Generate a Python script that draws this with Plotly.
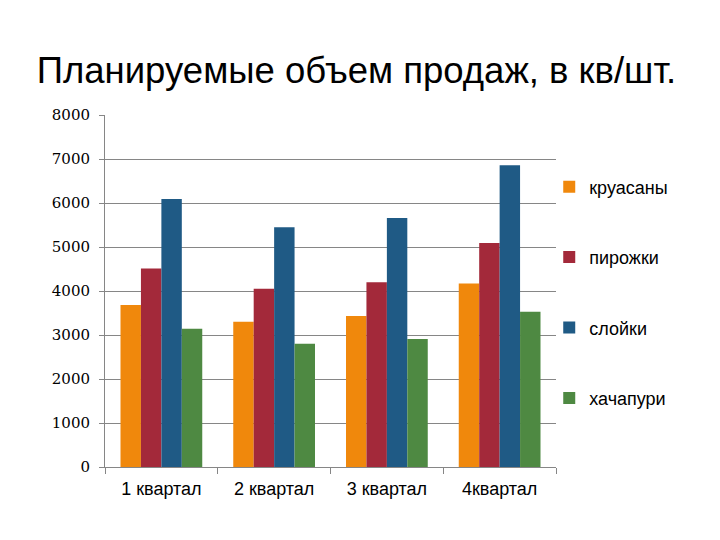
import plotly.graph_objects as go

categories = ["1 квартал", "2 квартал", "3 квартал", "4квартал"]
kruasany = [3680, 3300, 3430, 4170]
pirozhki = [4510, 4050, 4200, 5090]
sloyki = [6090, 5450, 5660, 6860]
khachapuri = [3140, 2800, 2910, 3530]
series_names = ["круасаны", "пирожки", "слойки", "хачапури"]
colors = ["#F0880C", "#A3293A", "#1F5A85", "#4E8942"]

fig = go.Figure()
for i, (name, vals) in enumerate(zip(series_names, [kruasany, pirozhki, sloyki, khachapuri])):
    fig.add_trace(go.Bar(x=categories, y=vals, name=name, marker_color=colors[i],
                         marker_line_width=0, legendgroup=name))

fig.update_layout(
    width=720, height=540,
    paper_bgcolor="white", plot_bgcolor="white",
    margin=dict(l=97, r=172, t=107, b=81),
    barmode="group", bargap=0.275, bargroupgap=0,
    title=dict(text="Планируемые объем продаж, в кв/шт.", x=0.484, xanchor="center",
               y=1 - 62 / 540, yanchor="middle",
               font=dict(family="Liberation Sans, Arial", size=36.5, color="#000000")),
    legend=dict(x=0.985, xanchor="left", y=0.848, yanchor="top",
                bgcolor="rgba(0,0,0,0)",
                font=dict(family="Liberation Sans, Arial", size=18, color="#000000"),
                tracegroupgap=44, itemwidth=30, traceorder="grouped"),
    showlegend=True,
)
fig.update_xaxes(showline=True, linecolor="#868686", linewidth=1,
                 ticks="outside", tickson="boundaries", ticklen=6, tickcolor="#868686",
                 ticklabelstandoff=5,
                 tickfont=dict(family="Liberation Sans, Arial", size=18, color="#000000"),
                 showgrid=False)
fig.update_yaxes(range=[0, 8000], dtick=1000, showline=True, linecolor="#868686", linewidth=1,
                 ticks="outside", ticklen=5, tickcolor="#868686",
                 ticklabelstandoff=6,
                 showgrid=True, gridcolor="#868686", gridwidth=1,
                 tickfont=dict(family="DejaVu Serif", size=15, color="#000000"),
                 zeroline=False)
fig.write_html("out.html")
